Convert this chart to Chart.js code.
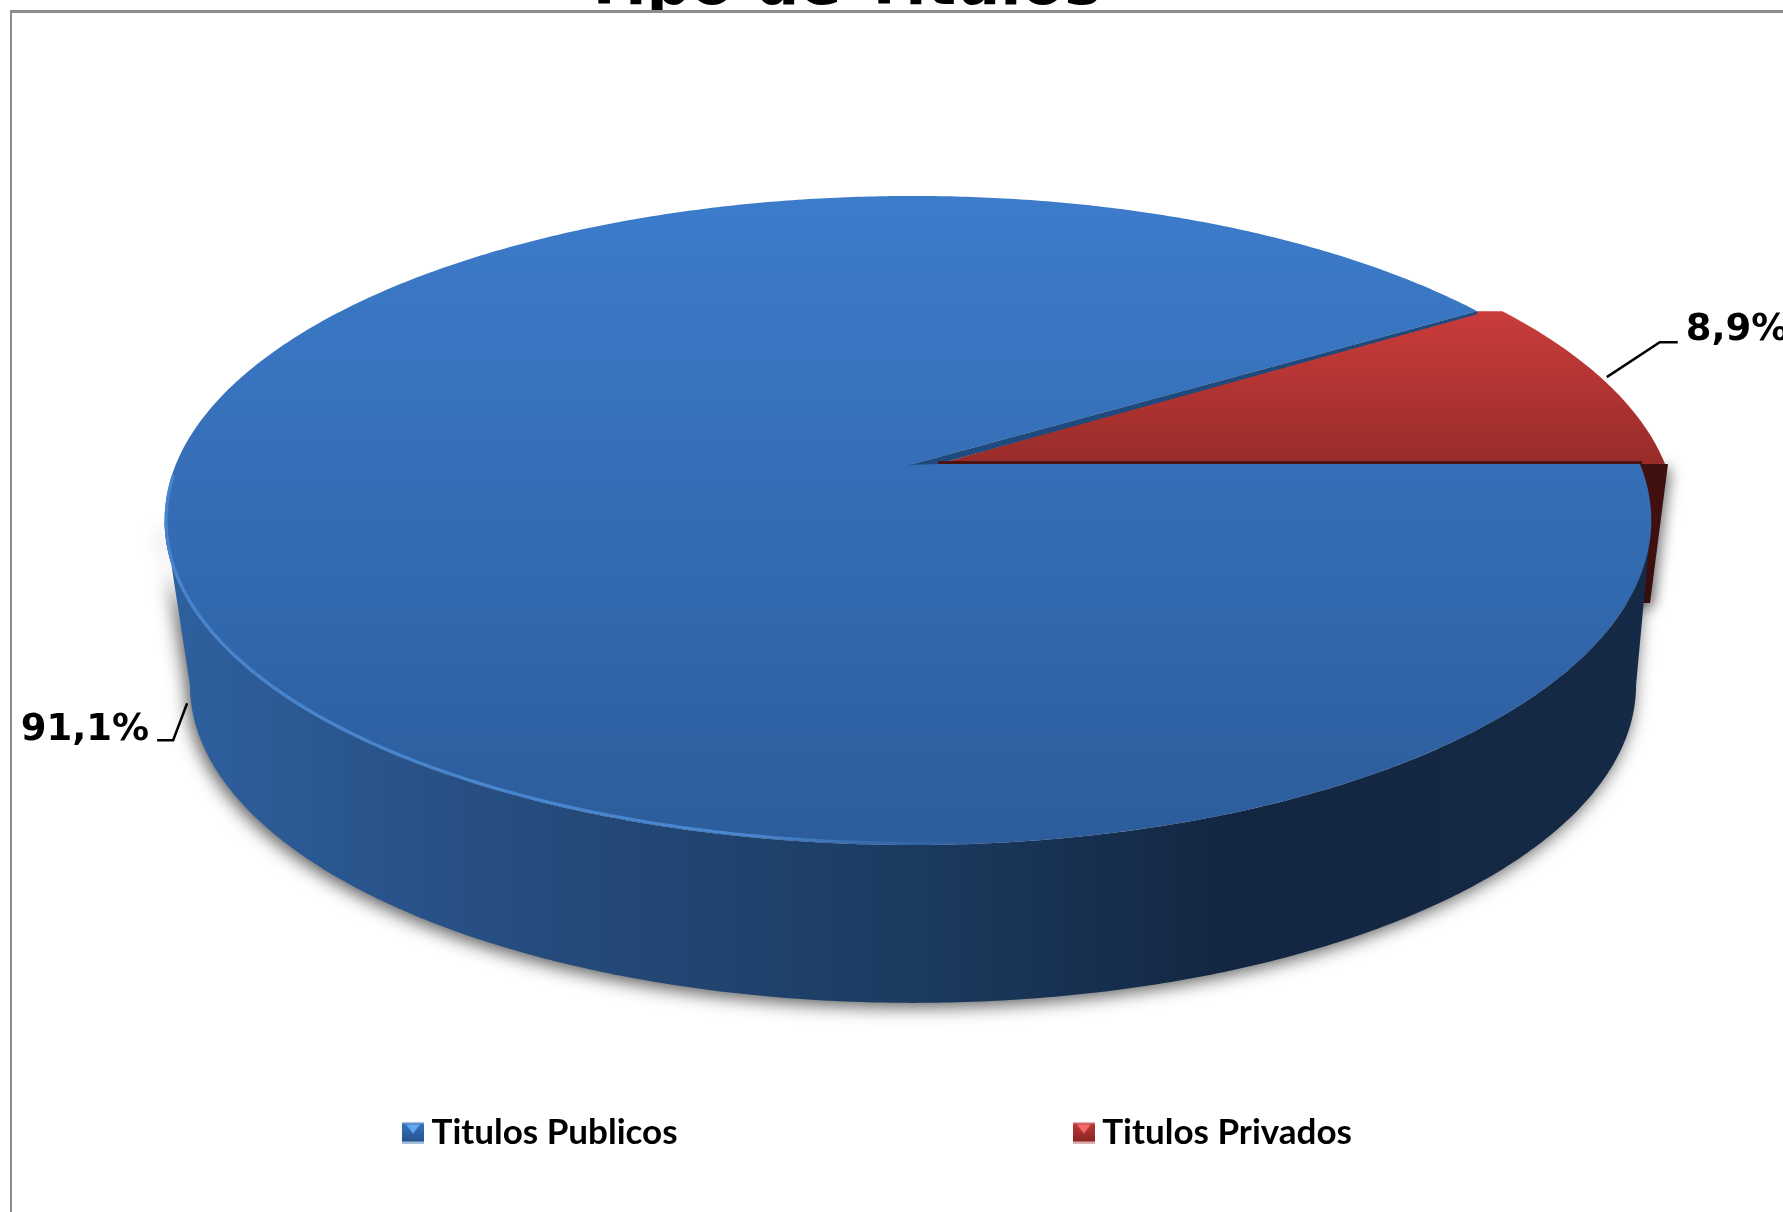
<!DOCTYPE html>
<html><head><meta charset="utf-8">
<script src="https://cdn.jsdelivr.net/npm/chart.js@4"></script>
<style>html,body{margin:0;padding:0;background:#fff;overflow:hidden;width:1783px;height:1212px}
canvas{position:absolute;left:0;top:-60px}</style></head>
<body><canvas id="c" width="1783" height="1272"></canvas>
<script>
const categories = ['Titulos Publicos', 'Titulos Privados'];
const values = [91.1, 8.9];
const chartTitle = 'Tipo de Titulos';
const sliceColors = ['#3468ae', '#b03432'];

// Perspective of the disc: unit-circle angle -> page position
const Y_SHIFT = 60;
const Q = -0.174;
const top0 = {x: 913, y: 464, a: 727, al: 737, b: 314.7};
const low0 = {x: 913, y: 630, a: 712, al: 712, b: 308};
const redTop = {x: 938, y: 464, a: 727, al: 727, b: 314.7};
const redLow = {x: 938, y: 603, a: 712, al: 712, b: 308};
const proj = (t, r) => {
  const c = Math.cos(t), s = Math.sin(t), w = 1 + Q * s;
  return [r.x + (c < 0 ? r.al : r.a) * c / w, r.y + r.b * s / w];
};
const rad = d => d * Math.PI / 180;
function ring(ctx, r, from, to, move) {
  const n = Math.max(2, Math.ceil(Math.abs(to - from) / rad(0.5)));
  for (let i = 0; i <= n; i++) {
    const p = proj(from + (to - from) * i / n, r);
    if (i === 0 && move) ctx.moveTo(p[0], p[1]); else ctx.lineTo(p[0], p[1]);
  }
}
const fmt = v => v.toFixed(1).replace('.', ',') + '%';

function marker(c0, c1, edge, tri) {
  const m = document.createElement('canvas'); m.width = 22; m.height = 22;
  const x = m.getContext('2d');
  const g = x.createLinearGradient(0, 0, 0, 22); g.addColorStop(0, c0); g.addColorStop(1, c1);
  x.fillStyle = g; x.fillRect(0, 0, 22, 22);
  x.fillStyle = edge; x.fillRect(0, 0, 22, 2); x.fillRect(0, 20, 22, 2);
  x.fillStyle = tri; x.beginPath(); x.moveTo(4, 3); x.lineTo(18, 3); x.lineTo(11, 12); x.closePath(); x.fill();
  return m;
}
const markers = [marker('#3a76c4', '#234f88', '#a9bedb', '#63a8f2'), marker('#c43c3a', '#842423', '#dcb0b0', '#f56a68')];

const disc3d = {
  id: 'disc3d',
  afterLayout(chart) { chart.titleBlock.right = chart.titleBlock.left + 2 * 842; },
  beforeDatasetDraw(chart, args) {
    const ctx = chart.ctx;
    const arcs = chart.getDatasetMeta(args.index).data;
    const blue = arcs[0], red = arcs[1];
    const bS = blue.startAngle, bE = blue.endAngle, rS = red.startAngle, rE = red.endAngle;
    ctx.save();
    ctx.translate(0, Y_SHIFT);

    // frame (sits over the clipped title)
    ctx.fillStyle = '#fff'; ctx.fillRect(11, 10, 1772, 30);
    ctx.fillStyle = '#8c8c8c';
    ctx.fillRect(11, 10, 1772, 3); ctx.fillRect(10, 10, 2, 1202);

    // red cut face
    const rimT = proj(rE, redTop), rimL = proj(rE, redLow);
    ctx.save();
    ctx.shadowColor = 'rgba(0,0,0,.55)'; ctx.shadowBlur = 14; ctx.shadowOffsetX = 3; ctx.shadowOffsetY = 4;
    ctx.fillStyle = '#3f100f';
    ctx.beginPath(); ctx.moveTo(rimT[0] + 3, rimT[1]); ctx.lineTo(rimT[0] - 200, rimT[1]);
    ctx.lineTo(rimL[0] - 200, rimL[1]); ctx.lineTo(rimL[0], rimL[1]); ctx.closePath(); ctx.fill();
    ctx.restore();

    // red top surface
    const corner = proj(bE, top0);
    let g = ctx.createLinearGradient(0, 305, 0, 464);
    g.addColorStop(0, '#cb3d3b'); g.addColorStop(1, '#982c2a');
    ctx.fillStyle = g;
    ctx.beginPath(); ctx.moveTo(redTop.x, redTop.y); ctx.lineTo(corner[0], corner[1]);
    ring(ctx, redTop, rS, rE, false); ctx.closePath(); ctx.fill();

    // blue side wall
    const tL = Math.PI - Math.asin(-Q), tR = Math.asin(-Q);
    ctx.save();
    ctx.shadowColor = 'rgba(0,0,0,.65)'; ctx.shadowBlur = 18; ctx.shadowOffsetX = -3; ctx.shadowOffsetY = 4;
    g = ctx.createLinearGradient(170, 0, 1650, 0);
    g.addColorStop(0, '#2e609f'); g.addColorStop(0.2, '#274f83'); g.addColorStop(0.5, '#1b3b60');
    g.addColorStop(0.72, '#132641'); g.addColorStop(1, '#152a46');
    ctx.fillStyle = g;
    ctx.beginPath(); ring(ctx, top0, tR, tL, true); ring(ctx, low0, tL, tR, false); ctx.closePath(); ctx.fill();
    ctx.restore();

    // blue top surface
    g = ctx.createLinearGradient(0, 196, 0, 845);
    g.addColorStop(0, '#3c7ccb'); g.addColorStop(1, '#2c5c9b');
    ctx.fillStyle = g;
    ctx.beginPath(); ctx.moveTo(top0.x, top0.y); ring(ctx, top0, bS, bE, false); ctx.closePath(); ctx.fill();

    // light front rim of the blue surface
    g = ctx.createLinearGradient(170, 0, 1000, 0);
    g.addColorStop(0, '#4684cf'); g.addColorStop(0.7, '#4a87d0'); g.addColorStop(1, 'rgba(60,110,170,0)');
    ctx.strokeStyle = g; ctx.lineWidth = 3;
    ctx.beginPath(); ring(ctx, {...top0, al: top0.al - 1.5, a: top0.a - 1.5, b: top0.b - 1.5}, rad(178), rad(80), true); ctx.stroke();

    // dark edges along the slice boundary
    ctx.fillStyle = '#1f4a7e';
    ctx.beginPath(); ctx.moveTo(top0.x - 4, top0.y + 1); ctx.lineTo(corner[0], corner[1]);
    ctx.lineTo(corner[0], corner[1] + 3); ctx.lineTo(redTop.x, redTop.y); ctx.closePath(); ctx.fill();
    ctx.fillStyle = '#4d1313'; ctx.fillRect(redTop.x, redTop.y - 3, proj(rE, top0)[0] - redTop.x + 2, 3);

    // leader lines and value labels
    ctx.fillStyle = '#000'; ctx.strokeStyle = '#000'; ctx.lineWidth = 2.5;
    ctx.font = 'bold 37px "DejaVu Sans"';
    const midR = (rS + rE) / 2, midB = (bS + bE) / 2;
    const aR = proj(midR, redTop), aB = proj(midB, low0);
    ctx.beginPath(); ctx.moveTo(aR[0] + 2, aR[1] - 4); ctx.lineTo(aR[0] + 55, aR[1] - 39); ctx.lineTo(aR[0] + 73, aR[1] - 39); ctx.stroke();
    ctx.textAlign = 'left'; ctx.textBaseline = 'alphabetic';
    ctx.fillText(fmt(values[1]), aR[0] + 81, aR[1] - 41);
    ctx.beginPath(); ctx.moveTo(aB[0] - 7, aB[1] - 16); ctx.lineTo(aB[0] - 21, aB[1] + 21); ctx.lineTo(aB[0] - 37, aB[1] + 21); ctx.stroke();
    ctx.textAlign = 'right';
    ctx.fillText(fmt(values[0]), aB[0] - 45, aB[1] + 21);
    ctx.restore();
    return false;
  }
};

new Chart(document.getElementById('c'), {
  type: 'pie',
  data: {labels: categories, datasets: [{data: values, backgroundColor: sliceColors, borderWidth: 0}]},
  options: {
    responsive: false, animation: false, devicePixelRatio: 1, rotation: 90,
    layout: {padding: {left: 0, right: 19, top: 0, bottom: 52}},
    plugins: {
      tooltip: {enabled: false},
      title: {display: true, text: chartTitle, color: '#000',
        font: {family: '"DejaVu Sans"', weight: 'bold', size: 62}, padding: {top: 11, bottom: 0}},
      legend: {position: 'bottom',
        labels: {usePointStyle: true, pointStyleWidth: 2, padding: 10, color: '#000',
          font: {family: 'Lato', weight: 'bold', size: 35},
          generateLabels: () => [
            {text: categories[0], fillStyle: sliceColors[0], strokeStyle: sliceColors[0], lineWidth: 0, pointStyle: markers[0]},
            {text: '\u00a0'.repeat(43), fillStyle: 'rgba(0,0,0,0)', strokeStyle: 'rgba(0,0,0,0)', lineWidth: 0, pointStyle: false},
            {text: categories[1], fillStyle: sliceColors[1], strokeStyle: sliceColors[1], lineWidth: 0, pointStyle: markers[1]}
          ]}}
    }
  },
  plugins: [disc3d]
});
</script></body></html>
